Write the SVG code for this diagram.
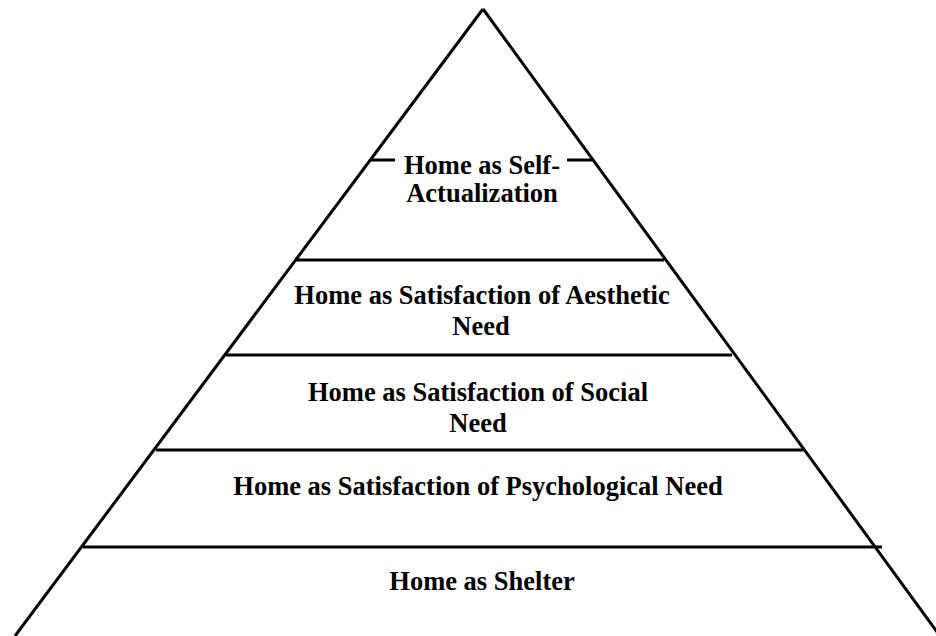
<svg xmlns="http://www.w3.org/2000/svg" width="936" height="636" viewBox="0 0 936 636">
  <style>
    .edge { stroke: #000; stroke-width: 3; fill: none; stroke-linecap: butt; }
    .lbl { font-family: "Liberation Serif", "Times New Roman", serif; font-weight: bold; font-size: 26.5px; fill: #000; text-anchor: middle; }
  </style>
  <rect width="936" height="636" fill="#fff"/>

  <g id="connectors">
    <!-- pyramid sides -->
    <line class="edge" x1="483" y1="9" x2="15" y2="636"/>
    <line class="edge" x1="483" y1="9" x2="940" y2="636"/>
    <!-- tier dividers -->
    <line class="edge" x1="370" y1="160" x2="395" y2="160"/>
    <line class="edge" x1="567" y1="160" x2="594" y2="160"/>
    <line class="edge" x1="295" y1="260" x2="664" y2="260"/>
    <line class="edge" x1="226" y1="355" x2="732" y2="355"/>
    <line class="edge" x1="156" y1="450" x2="803" y2="450"/>
    <line class="edge" x1="83" y1="547" x2="882" y2="547"/>
  </g>

  <g id="tier-self-actualization">
    <text class="lbl" x="482" y="174">Home as Self-</text>
    <text class="lbl" x="482" y="202">Actualization</text>
  </g>
  <g id="tier-aesthetic">
    <text class="lbl" x="482" y="304">Home as Satisfaction of Aesthetic</text>
    <text class="lbl" x="481" y="335">Need</text>
  </g>
  <g id="tier-social">
    <text class="lbl" x="478" y="401">Home as Satisfaction of Social</text>
    <text class="lbl" x="478" y="432">Need</text>
  </g>
  <g id="tier-psychological">
    <text class="lbl" x="478" y="495">Home as Satisfaction of Psychological Need</text>
  </g>
  <g id="tier-shelter">
    <text class="lbl" x="482" y="590">Home as Shelter</text>
  </g>
</svg>
